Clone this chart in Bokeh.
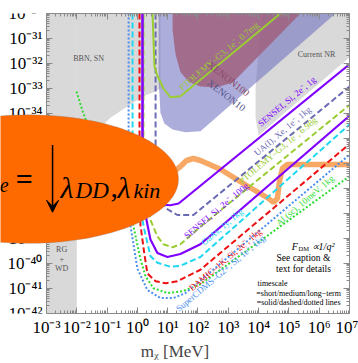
import numpy as np
from bokeh.plotting import figure
from bokeh.models import (FixedTicker, LogAxis, CustomJSTickFormatter, PolyAnnotation,
                          Label, Arrow, VeeHead, Range1d)
from bokeh.embed import file_html
from bokeh.resources import INLINE

# ---------------- axes ----------------
x_decades = list(range(-3, 8))      # m_chi [MeV] 1e-3 .. 1e7
y_decades = list(range(-42, -29))   # sigma_e [cm^2] 1e-42 .. 1e-30

# ---------------- shaded regions (log10 m, log10 sigma) ----------------
rgwd_logm = [-3.0, -2.0, -2.0, -3.0]
rgwd_logs = [-42.0, -42.0, -30.0, -30.0]

bbn_logm = [-2.01, 0.76, 0.76, 0.60, 0.27, -0.06, -0.56, -0.89, -1.22, -1.55, -2.01]
bbn_logs = [-30.0, -30.0, -33.00, -33.12, -33.27, -33.51, -33.90, -34.17, -34.56, -35.03, -35.92]

nr_logm = [4.13, 7.0, 7.0, 4.00, 3.90, 3.90, 4.00]
nr_logs = [-30.0, -30.0, -31.75, -34.87, -34.17, -33.00, -31.44]

xe10_logm = [0.70, 6.54, 2.08, 1.59, 1.16, 0.89, 0.76, 0.70]
xe10_logs = [-30.0, -30.0, -34.71, -34.75, -34.64, -34.40, -33.97, -32.61]

xe100_logm = [1.16, 5.38, 3.14, 2.58, 2.08, 1.69, 1.42, 1.26, 1.16]
xe100_logs = [-30.0, -30.0, -32.77, -32.96, -32.92, -32.73, -32.34, -31.64, -30.66]

# ---------------- projection curves ----------------
cdms_logm = [-0.29, -0.29, -0.26, -0.13, 0.00, 0.33, 0.76, 1.19, 1.59, 7.0]
cdms_logs = [-30.0, -35.34, -38.26, -39.23, -40.21, -41.06, -41.38, -41.38, -41.18, -35.65]

al_logm = [-2.01, -1.81, -1.61, -0.89, -0.39, -0.16, 0.10, 0.27, 0.53, 0.99, 1.52, 2.08, 7.0]
al_logs = [-33.12, -33.90, -34.56, -36.51, -37.67, -38.34, -39.82, -40.52, -40.99, -41.18, -41.10, -40.83, -36.51]

damic_logm = [0.07, 0.07, 0.10, 0.23, 0.33, 0.60, 0.93, 1.32, 2.08, 7.0]
damic_logs = [-30.0, -35.34, -38.45, -39.62, -40.40, -40.71, -40.79, -40.71, -40.25, -35.22]

gaas_logm = [-0.16, -0.16, 0.04, 0.23, 0.43, 0.66, 1.09, 1.42, 2.08, 7.0]
gaas_logs = [-30.0, -35.34, -37.48, -38.65, -39.70, -39.97, -40.13, -40.09, -39.74, -34.44]

sensei100_logm = [0.17, 0.17, 0.30, 0.43, 0.66, 0.99, 1.42, 2.08, 7.0]
sensei100_logs = [-30.0, -35.34, -38.26, -39.04, -39.58, -39.74, -39.62, -39.23, -34.09]

ptolb_logm = [0.20, 0.20, 0.43, 0.66, 0.86, 1.16, 1.42, 2.08, 7.0]
ptolb_logs = [-30.0, -35.34, -38.26, -38.92, -39.23, -39.35, -39.23, -38.53, -33.66]

sensei1_logm = [0.17, 0.17, 0.27, 0.43, 0.70, 1.09, 1.36, 7.0]
sensei1_logs = [-30.0, -35.34, -36.90, -37.40, -37.64, -37.67, -37.60, -32.03]

ua_logm = [0.60, 0.60, 0.70, 0.93, 1.32, 1.85, 7.0]
ua_logs = [-30.0, -35.34, -37.28, -37.79, -38.06, -38.06, -32.92]

ptola_logm = [0.50, 0.53, 0.56, 0.66, 0.86, 1.09, 1.42, 4.72]
ptola_logs = [-30.0, -31.05, -32.10, -32.49, -33.00, -33.35, -33.31, -30.0]

orange_logm = [0.76, 1.09, 1.42, 1.62, 1.85, 2.08, 2.74, 3.63, 4.33, 4.49, 4.62, 4.69, 4.79, 4.95, 7.0]
orange_logs = [-36.58, -36.43, -36.12, -35.88, -35.80, -35.88, -36.23, -36.90, -37.40, -37.56, -37.40, -36.70, -36.19, -36.04, -36.04]

# ---------------- overlay ellipse (log10 centre / semi-axes in decades) ----------------
ell_cx, ell_cy, ell_a, ell_b = -3.594, -36.623, 4.95, 2.571

SERIF = "Liberation Serif"
X_MIN, X_MAX = 1e-3, 1e7
Y_MIN, Y_MAX = 1e-42, 1e-30

def P(v):
    return 10.0 ** np.asarray(v, dtype=float)

# frame spans the full canvas width on the left so the overlay can cover the y labels;
# the y axis itself is pinned at m = 1e-3
p = figure(width=358, height=363, x_axis_type="log", y_axis_type="log",
           x_range=Range1d(10 ** -4.518, X_MAX), y_range=Range1d(Y_MIN, Y_MAX),
           output_backend="svg", toolbar_location=None,
           min_border_left=0, min_border_right=9, min_border_top=13, min_border_bottom=42)
p.xgrid.visible = False
p.ygrid.visible = False
p.outline_line_color = None
p.background_fill_color = "white"

tick_js = r"""
const sup = {"-":"\u207b","0":"\u2070","1":"\u00b9","2":"\u00b2","3":"\u00b3","4":"\u2074",
             "5":"\u2075","6":"\u2076","7":"\u2077","8":"\u2078","9":"\u2079"};
const e = Math.round(Math.log10(tick));
let s = "";
for (const c of String(e)) s += sup[c];
return "10" + s;
"""
xt = FixedTicker(ticks=[10.0 ** k for k in x_decades],
                 minor_ticks=[m * 10.0 ** k for k in x_decades[:-1] for m in range(2, 10)])
yt = FixedTicker(ticks=[10.0 ** k for k in y_decades],
                 minor_ticks=[m * 10.0 ** k for k in y_decades[:-1] for m in range(2, 10)])

def style_axis(ax, ticker, labels=True):
    ax.ticker = ticker
    ax.major_tick_in = 6
    ax.major_tick_out = 0
    ax.minor_tick_in = 3
    ax.minor_tick_out = 0
    ax.axis_line_color = "#8a8a8a"
    ax.major_tick_line_color = "#8a8a8a"
    ax.minor_tick_line_color = "#8a8a8a"
    if labels:
        ax.formatter = CustomJSTickFormatter(code=tick_js)
        ax.major_label_text_font = SERIF
        ax.major_label_text_font_size = "17px"
        ax.major_label_text_color = "black"
        ax.major_label_standoff = 4
    else:
        ax.formatter = CustomJSTickFormatter(code="return '';")
        ax.major_label_standoff = 0
        ax.major_label_text_font_size = "1px"

xax = p.xaxis[0]
style_axis(xax, xt)
xax.bounds = (X_MIN, X_MAX)
xax.axis_label = "m\u1d6a [MeV]"
xax.axis_label_text_font = SERIF
xax.axis_label_text_font_style = "normal"
xax.axis_label_text_font_size = "17px"
xax.axis_label_standoff = 2

yax = p.yaxis[0]
style_axis(yax, yt)
yax.fixed_location = X_MIN

top = LogAxis(bounds=(X_MIN, X_MAX))
right = LogAxis()
style_axis(top, xt, labels=False)
style_axis(right, yt, labels=False)
p.add_layout(top, "above")
p.add_layout(right, "right")

# regions
p.patch(P(rgwd_logm), P(rgwd_logs), fill_color="#d9d9d9", line_color=None)
p.patch(P(bbn_logm), P(bbn_logs), fill_color="#d9d9d9", line_color=None)
p.patch(P(nr_logm), P(nr_logs), fill_color="#d9d9d9", line_color=None)
p.patch(P(xe10_logm), P(xe10_logs), fill_color="#6a6ac0", fill_alpha=0.55, line_color=None)
p.patch(P(xe100_logm), P(xe100_logs), fill_color="#a0607e", fill_alpha=0.85, line_color=None)

# curves
p.line(P(orange_logm), P(orange_logs), line_color="#f5a35c", line_width=5.5, line_alpha=0.95)
p.line(P(al_logm), P(al_logs), line_color="#2fdc2f", line_width=2, line_dash="2 2")
p.line(P(cdms_logm), P(cdms_logs), line_color="#4a8ef0", line_width=2, line_dash="2 2")
p.line(P(damic_logm), P(damic_logs), line_color="#ee1111", line_width=2, line_dash="6 3")
p.line(P(gaas_logm), P(gaas_logs), line_color="#1fd8f0", line_width=2, line_dash="6 3")
p.line(P(sensei100_logm), P(sensei100_logs), line_color="#8000ff", line_width=2.2)
p.line(P(ptolb_logm), P(ptolb_logs), line_color="#9acd32", line_width=2, line_dash="6 3")
p.line(P(sensei1_logm), P(sensei1_logs), line_color="#8000ff", line_width=2.2)
p.line(P(ua_logm), P(ua_logs), line_color="#6b6bb5", line_width=2, line_dash="6 3")
p.line(P(ptola_logm), P(ptola_logs), line_color="#9acd32", line_width=2)

def lab(lx, ly, text, color, size="9px", angle=0.0, align="left", baseline="bottom",
        style="normal", level="annotation"):
    p.add_layout(Label(x=10.0 ** lx, y=10.0 ** ly, text=text, text_color=color,
                       text_font=SERIF, text_font_size=size, angle=angle,
                       text_align=align, text_baseline=baseline,
                       text_font_style=style, level=level))

ang = 0.70
lab(1.52, -33.16, "PTOLEMY\u2013G3, 1e\u207b, 0.7mg", "#9acd32", angle=ang)
lab(4.13, -34.60, "SENSEI, Si, 2e\u207b, 1g", "#8000ff", angle=ang)
lab(4.00, -35.77, "UA(I), Xe, 1e\u207b, 1kg", "#6b6bb5", angle=ang)
lab(3.50, -36.90, "PTOLEMY\u2013G3, 1e\u207b, 6.98g", "#9acd32", angle=ang)
lab(1.69, -39.08, "SENSEI, Si, 2e\u207b, 100g", "#8000ff", angle=ang)
lab(2.25, -39.35, "GaAs, 1y, 1kg", "#1fd8f0", angle=ang)
lab(1.85, -41.18, "DAMIC\u20131K, Si, 2e\u207b, 1kg", "#ee1111", angle=ang)
lab(1.42, -42.0, "SuperCDMS\u2013G2+, Si, 1e\u207b, 1kg", "#4a8ef0", angle=ang)
lab(4.72, -38.57, "Al (sc), 10meV, 1kg", "#2fdc2f", angle=ang)
lab(3.01, -32.61, "XENON100", "#8a4a66", size="10px", angle=-0.66, align="center", baseline="middle")
lab(2.94, -33.27, "XENON10", "#55558a", size="10px", angle=-0.66, align="center", baseline="middle")

lab(-1.61, -31.79, "BBN, SN", "#555555", size="8px", align="center", baseline="middle")
lab(5.91, -31.64, "Current NR", "#555555", size="8px", align="center", baseline="middle")
lab(-2.50, -39.43, "RG", "#555555", size="8px", align="center", baseline="middle")
lab(-2.50, -39.82, "+", "#555555", size="8px", align="center", baseline="middle")
lab(-2.50, -40.21, "WD", "#555555", size="8px", align="center", baseline="middle")

lab(5.09, -39.31, "F", "black", size="10px", style="italic", baseline="alphabetic")
lab(5.32, -39.39, "DM", "black", size="6.5px", baseline="alphabetic")
lab(5.75, -39.31, "\u221d1/q\u00b2", "black", size="10px", style="italic", baseline="alphabetic")
lab(5.48, -39.78, "See caption &", "black", size="9.5px", align="center", baseline="middle")
lab(5.48, -40.21, "text for details", "black", size="9.5px", align="center", baseline="middle")
lab(4.46, -40.79, "timescale", "black", size="8px", align="center", baseline="middle")
lab(5.32, -41.18, "=short/medium/long\u2212term", "black", size="8px", align="center", baseline="middle")
lab(5.32, -41.57, "=solid/dashed/dotted lines", "black", size="8px", align="center", baseline="middle")

# overlay ellipse with text
t = np.linspace(0, 2 * np.pi, 160)
ell = PolyAnnotation(xs=list(10.0 ** (ell_cx + ell_a * np.cos(t))),
                     ys=list(10.0 ** (ell_cy + ell_b * np.sin(t))),
                     fill_color="#ff6a00", fill_alpha=1.0, line_color="#808080",
                     line_width=1, level="overlay")
p.add_layout(ell)
lab(-4.25, -36.86, "e", "black", size="20px", style="italic", align="right",
    baseline="alphabetic", level="overlay")
lab(-3.73, -36.58, "=", "black", size="30px", style="bold", align="center", baseline="middle",
    level="overlay")
lab(-2.54, -36.97, "\u03bb", "black", size="30px", style="italic", baseline="alphabetic", level="overlay")
lab(-2.04, -37.09, "DD", "black", size="23px", style="italic", baseline="alphabetic", level="overlay")
lab(-0.89, -36.97, ",", "black", size="30px", baseline="alphabetic", level="overlay")
lab(-0.66, -36.97, "\u03bb", "black", size="30px", style="italic", baseline="alphabetic", level="overlay")
lab(-0.13, -37.09, "kin", "black", size="22px", style="italic", baseline="alphabetic", level="overlay")
p.add_layout(Arrow(x_start=10.0 ** -2.80, y_start=10.0 ** -35.26, x_end=10.0 ** -2.80, y_end=10.0 ** -37.95,
                   line_color="black", line_width=1.5,
                   end=VeeHead(size=12, fill_color="black", line_color="black"), level="overlay"))

open("out.html", "w").write(file_html(p, INLINE))
